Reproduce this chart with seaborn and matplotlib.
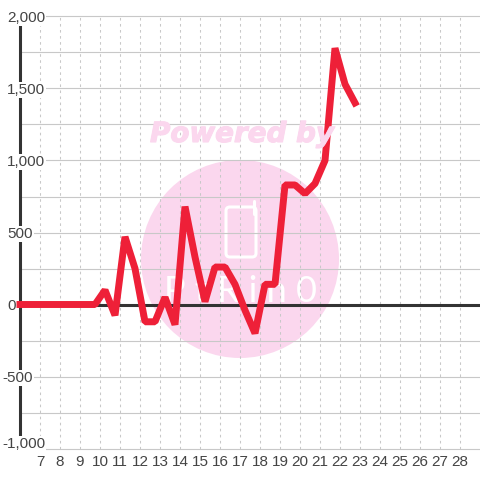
import pandas as pd
import matplotlib
matplotlib.use('Agg')
import matplotlib.pyplot as plt
import matplotlib.patheffects as pe
from matplotlib.patches import Circle, FancyBboxPatch
import seaborn as sns

# half-day samples
days = [6.0, 6.25, 6.75, 7.25, 7.75, 8.25, 8.75, 9.25, 9.75, 10.25, 10.75, 11.25, 11.75,
        12.25, 12.75, 13.25, 13.75, 14.25, 14.75, 15.25, 15.75, 16.25, 16.75, 17.25,
        17.75, 18.25, 18.75, 19.25, 19.75, 20.25, 20.75, 21.25, 21.75, 22.25, 22.75]
values = [0, 0, 0, 0, 0, 0, 0, 0, 0, 100, -75, 470, 250,
          -120, -120, 50, -140, 680, 330, 20, 260, 260, 140, -40,
          -200, 140, 140, 830, 830, 770, 840, 1000, 1780, 1530, 1400]
x_ticks = list(range(7, 29))
y_major = [-1000, -500, 0, 500, 1000, 1500, 2000]
y_minor = [-750, -250, 250, 750, 1250, 1750]

df = pd.DataFrame({'day': days, 'value': values})

sns.set_theme(style='white')
plt.rcParams['font.family'] = ['Liberation Sans', 'DejaVu Sans']

fig = plt.figure(figsize=(4.8, 4.8), dpi=100)
# axes pixel box: x 20.5..480.5 (day 6..29), y 16.5..448.5
ax = fig.add_axes([20 / 480, 31.5 / 480, 460 / 480, 432 / 480])
ax.set_xlim(6, 29)
ax.set_ylim(-1000, 2000)

grid = '#c8c8c8'
for s in ax.spines.values():
    s.set_visible(False)
for y in y_major + y_minor:
    ax.axhline(y, color=grid, lw=0.8, zorder=1, clip_on=False)
for x in x_ticks:
    ax.axvline(x, color=grid, lw=0.75, ls=(0, (2.5, 3.3)), zorder=1)

# faint watermark
wm = '#fbd7ee'
ax.add_patch(Circle((240 / 480, (480 - 259) / 480), 99 / 480, transform=fig.transFigure,
                    facecolor=wm, edgecolor='none', zorder=0.5, clip_on=False))
fig.text(242 / 480, (480 - 134) / 480, 'Powered by', color=wm, fontsize=20,
         fontweight='bold', fontstyle='italic', ha='center', va='center', zorder=0.6,
         family='DejaVu Sans', path_effects=[pe.withStroke(linewidth=0.8, foreground=wm)])
ax.add_patch(FancyBboxPatch((226 / 480, (480 - 257) / 480), 30 / 480, 50 / 480,
                            boxstyle='round,pad=0,rounding_size=0.008', transform=fig.transFigure,
                            facecolor='none', edgecolor='white', lw=2.2, zorder=0.8))
ax.plot([254.5 / 480, 254.5 / 480], [(480 - 214) / 480, (480 - 201) / 480], transform=fig.transFigure,
        color='white', lw=2.2, solid_capstyle='round', zorder=0.8)
ax.text(241 / 480, (480 - 292) / 480, 'P t R i n 0', transform=fig.transFigure, color='white',
        fontsize=26, ha='center', va='center', family='Lato', zorder=0.8)

# zero line and y axis
ax.axhline(0, color='#333333', lw=2.2, zorder=2, clip_on=False)
ax.axvline(6, color='#333333', lw=2.2, zorder=2, clip_on=False)

sns.lineplot(data=df, x='day', y='value', ax=ax, color='#ee2038', lw=5, zorder=3,
             errorbar=None, solid_joinstyle='bevel', solid_capstyle='projecting', clip_on=False)

ax.set_xlabel('')
ax.set_ylabel('')
ax.set_xticks(x_ticks)
ax.set_xticklabels([str(x) for x in x_ticks])
ax.set_yticks(y_major)
ax.set_yticklabels([])
ax.tick_params(axis='x', length=0, pad=5, labelsize=11, colors='#444444')
ax.tick_params(axis='y', length=0)

for y in y_major:
    left = 2 if y < 0 else 7
    # the bottom label sits a little above its gridline
    shift = 6 if y == -1000 else 0
    ax.annotate(f'{y:,}', (0, y), xycoords=('figure pixels', 'data'),
                xytext=(left, shift), textcoords='offset pixels', ha='left', va='center_baseline',
                fontsize=11, color='#444444', annotation_clip=False, zorder=2.5,
                bbox=dict(facecolor='white', edgecolor='none', pad=0.8))

fig.savefig('out.png', dpi=100, facecolor='white')
